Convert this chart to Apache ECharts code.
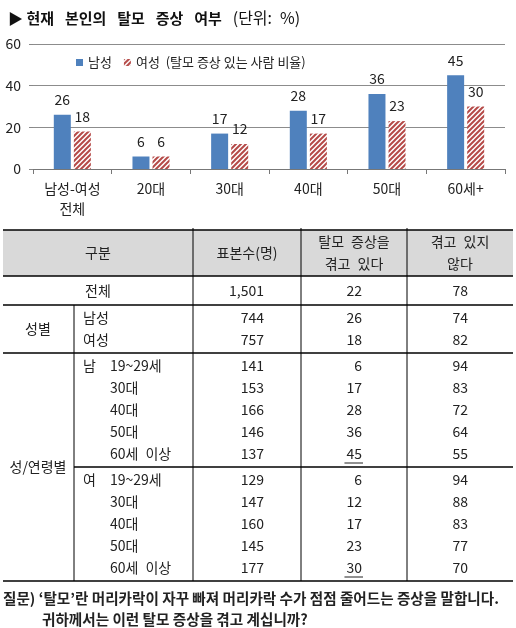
<!DOCTYPE html>
<html>
<head>
<meta charset="utf-8">
<script src="https://cdn.jsdelivr.net/npm/echarts@6/dist/echarts.min.js"></script>
<style>
  html, body { margin: 0; padding: 0; background: #fff; }
  #main { width: 516px; height: 628px; }
</style>
</head>
<body>
<div id="main"></div>
<script>
// 막대 차트 데이터
const categories = ['남성-여성\n전체', '20대', '30대', '40대', '50대', '60세+'];
const maleRate = [26, 6, 17, 28, 36, 45];
const femaleRate = [18, 6, 12, 17, 23, 30];
const yTicks = [0, 20, 40, 60];

// 표 데이터
const headers = ['구분', '표본수(명)', '탈모\u2002증상을\n겪고\u2002있다', '겪고\u2002있지\n않다'];
const totalRow = ['전체', 1501, 22, 78];
const genderLabels = ['남성', '여성'];
const genderN = [744, 757];
const genderYes = [26, 18];
const genderNo = [74, 82];
const ageLabels = ['19~29세', '30대', '40대', '50대', '60세\u2002이상'];
const maleN = [141, 153, 166, 146, 137];
const maleYes = [6, 17, 28, 36, 45];
const maleNo = [94, 83, 72, 64, 55];
const femaleN = [129, 147, 160, 145, 177];
const femaleYes = [6, 12, 17, 23, 30];
const femaleNo = [94, 88, 83, 77, 70];

const question = ['질문) ‘탈모’란 머리카락이 자꾸 빠져 머리카락 수가 점점 줄어드는 증상을 말합니다.',
                  '귀하께서는 이런 탈모 증상을 겪고 계십니까?'];

const FONT = '"Noto Sans CJK KR", "Noto Sans", sans-serif';
const TXT = '#222';
const SP = '\u2002 ';

// 빗금 패턴
function makeHatch() {
  const c = document.createElement('canvas');
  c.width = 5; c.height = 5;
  const ctx = c.getContext('2d');
  ctx.fillStyle = '#fff';
  ctx.fillRect(0, 0, 5, 5);
  ctx.strokeStyle = '#b54a48';
  ctx.lineWidth = 2;
  ctx.beginPath();
  ctx.moveTo(-1, 6); ctx.lineTo(6, -1);
  ctx.moveTo(-1, 1); ctx.lineTo(1, -1);
  ctx.moveTo(4, 6); ctx.lineTo(6, 4);
  ctx.stroke();
  return c;
}

const measure = document.createElement('canvas').getContext('2d');
function textWidth(s, font) {
  measure.font = font;
  return measure.measureText(s).width;
}

// 표 그리기 (graphic 요소)
const tbl = { left: 3, right: 513, top: 230, head: 276, cols: [193, 301, 407], sub: 74 };
const numRight = [264, 362, 468];
const rowH = 22;
const g = [];

function hline(y, x1, x2) {
  g.push({ type: 'line', shape: { x1: x1, y1: y, x2: x2, y2: y }, style: { stroke: '#000', lineWidth: 1.3 }, z: 10 });
}
function vline(x, y1, y2) {
  g.push({ type: 'line', shape: { x1: x, y1: y1, x2: x, y2: y2 }, style: { stroke: '#000', lineWidth: 1 }, z: 10 });
}
function text(s, x, y, align, font) {
  g.push({ type: 'text', x: x, y: y, z: 11,
    style: { text: s, font: font || ('14px ' + FONT), fill: TXT, align: align || 'left', verticalAlign: 'middle', lineHeight: 22 } });
}
function numCells(y, vals, underlineIdx) {
  vals.forEach((v, i) => {
    const s = v.toLocaleString('en-US');
    text(s, numRight[i], y, 'right');
    if (underlineIdx === i) {
      const w = textWidth(s, '14px ' + FONT);
      g.push({ type: 'line', shape: { x1: numRight[i] - w - 2, y1: y + 9, x2: numRight[i] + 1, y2: y + 9 },
        style: { stroke: TXT, lineWidth: 1 }, z: 11 });
    }
  });
}

// 헤더
g.push({ type: 'rect', shape: { x: tbl.left, y: tbl.top, width: tbl.right - tbl.left, height: tbl.head - tbl.top },
  style: { fill: '#d9d9d9' }, z: 1 });
const headCx = [(tbl.left + tbl.cols[0]) / 2, (tbl.cols[0] + tbl.cols[1]) / 2, (tbl.cols[1] + tbl.cols[2]) / 2, (tbl.cols[2] + tbl.right) / 2];
headers.forEach((h, i) => text(h, headCx[i], (tbl.top + tbl.head) / 2, 'center'));

// 전체
let y = tbl.head;
text(totalRow[0], headCx[0], y + 15, 'center');
numCells(y + 15, totalRow.slice(1));
y += 29;

// 성별
const genderTop = y;
genderLabels.forEach((lab, i) => {
  const cy = y + 13 + i * rowH;
  text(lab, 83, cy, 'left');
  numCells(cy, [genderN[i], genderYes[i], genderNo[i]]);
});
y += 26 + rowH * (genderLabels.length - 1);
text('성별', 38, (genderTop + y) / 2, 'center');

// 성/연령별
const ageTop = y;
const ageGroups = [['남', maleN, maleYes, maleNo], ['여', femaleN, femaleYes, femaleNo]];
ageGroups.forEach((grp, gi) => {
  const top = y;
  const maxIdx = grp[2].indexOf(Math.max.apply(null, grp[2]));
  ageLabels.forEach((lab, i) => {
    const cy = top + 13 + i * rowH;
    if (i === 0) text(grp[0], 83, cy, 'left');
    text(lab, 110, cy, 'left');
    numCells(cy, [grp[1][i], grp[2][i], grp[3][i]], i === maxIdx ? 1 : -1);
  });
  y += 26 + rowH * (ageLabels.length - 1);
  if (gi === 0) hline(y, tbl.sub, tbl.right);
});
text('성/연령별', 38, (ageTop + y) / 2, 'center');

hline(tbl.top, tbl.left, tbl.right);
hline(tbl.head, tbl.left, tbl.right);
hline(tbl.head + 29, tbl.left, tbl.right);
hline(ageTop, tbl.left, tbl.right);
hline(y, tbl.left, tbl.right);
tbl.cols.forEach(x => vline(x, tbl.top - 2, y));
vline(tbl.sub, tbl.head + 29, y);

// 질문
text(question[0], 3, y + 17, 'left', 'bold 14.6px ' + FONT);
text(question[1], 42, y + 38, 'left', 'bold 14.6px ' + FONT);

const chart = echarts.init(document.getElementById('main'));
chart.setOption({
  animation: false,
  textStyle: { fontFamily: FONT },
  title: {
    left: 3, top: 5,
    text: '{a|▶ 현재' + SP + '본인의' + SP + '탈모' + SP + '증상' + SP + '여부' + SP + '}{b|(단위:\u2002%)}',
    textStyle: {
      fontSize: 15,
      rich: {
        a: { fontSize: 15, fontWeight: 'bold', color: '#111', fontFamily: FONT },
        b: { fontSize: 16, fontWeight: 'normal', color: '#111', fontFamily: FONT }
      }
    }
  },
  legend: {
    left: 71, top: 51,
    itemWidth: 7, itemHeight: 7, itemGap: 12,
    icon: 'rect',
    textStyle: { fontSize: 13, color: TXT, fontFamily: FONT },
    formatter: name => name === '여성' ? '여성  (탈모 증상 있는 사람 비율)' : name,
    data: ['남성', '여성']
  },
  grid: { left: 33, right: 11, top: 44, height: 125 },
  xAxis: {
    type: 'category',
    data: categories,
    axisLine: { lineStyle: { color: '#777' } },
    axisTick: { show: true, length: 5, lineStyle: { color: '#777' } },
    axisLabel: { interval: 0, fontSize: 14, color: TXT, margin: 10, lineHeight: 20, fontFamily: FONT }
  },
  yAxis: {
    type: 'value',
    min: yTicks[0], max: yTicks[yTicks.length - 1], interval: 20,
    axisLine: { show: false },
    axisTick: { show: true, length: 4, lineStyle: { color: '#888' } },
    splitLine: { lineStyle: { color: '#8c8c8c' } },
    axisLabel: { fontSize: 14, color: TXT, margin: 12, fontFamily: FONT }
  },
  series: [
    {
      name: '남성', type: 'bar', data: maleRate,
      barWidth: 17, barGap: '18%',
      itemStyle: { color: '#4f81bd' },
      label: { show: true, position: 'top', distance: 8, fontSize: 14, color: TXT, fontFamily: FONT }
    },
    {
      name: '여성', type: 'bar', data: femaleRate,
      barWidth: 17,
      itemStyle: { color: { image: makeHatch(), repeat: 'repeat' } },
      label: { show: true, position: 'top', distance: 8, fontSize: 14, color: TXT, fontFamily: FONT }
    }
  ],
  graphic: g
});
</script>
</body>
</html>
